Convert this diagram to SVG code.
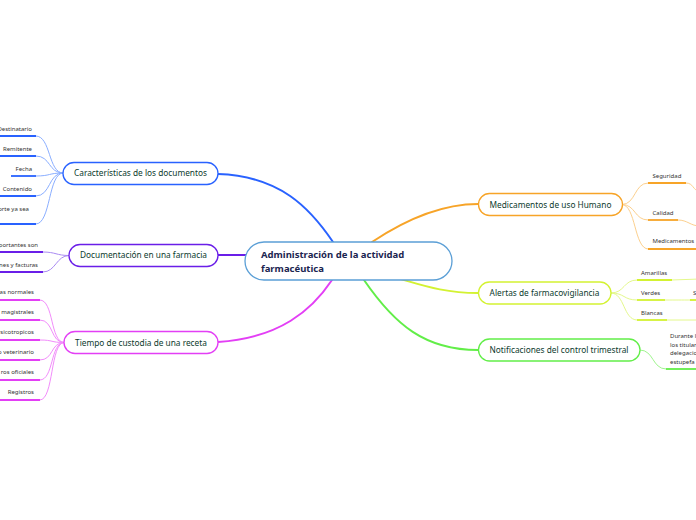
<svg xmlns="http://www.w3.org/2000/svg" width="696" height="520" viewBox="0 0 696 520">
<style>
.bg{fill:#ffffff}
.node{fill:#ffffff;stroke-width:1.3}
.nt{font-family:"Noto Sans","Open Sans",sans-serif;font-size:8.3px;fill:#0d3b2e;text-anchor:middle}
.ct{font-family:"Noto Sans","Open Sans",sans-serif;font-size:9.5px;font-weight:bold;fill:#1b2550}
.lt{font-family:"Noto Sans","Open Sans",sans-serif;font-size:6px;fill:#333333}
.le{text-anchor:end}
.c{fill:none;stroke-linecap:round}
.u{fill:none;stroke-width:1.8}
.blue{stroke:#2962ff}
.blueL{stroke:#8aaeff}
.purp{stroke:#6a1ee8}
.purpL{stroke:#a98af2}
.mag{stroke:#e33ff5}
.magL{stroke:#f28cfb}
.ora{stroke:#f7a428}
.oraL{stroke:#fcd08e}
.yel{stroke:#d3f232}
.yelL{stroke:#e4f88c}
.grn{stroke:#62ee48}
.grnL{stroke:#9ff58e}
</style>
<rect class="bg" x="0" y="0" width="696" height="520"/>
<g id="connectors">
  <!-- main branches -->
  <path class="c blue" stroke-width="2" d="M218,174 C280,176 310,208 333,242"/>
  <path class="c purp" stroke-width="2" d="M218,255 L246,255"/>
  <path class="c mag" stroke-width="2" d="M218,342 C280,338 312,310 332,280"/>
  <path class="c ora" stroke-width="2" d="M372,242 C405,220 440,204 478,204"/>
  <path class="c yel" stroke-width="2" d="M397,278 C425,286 445,293 478,293"/>
  <path class="c grn" stroke-width="2" d="M364,280 C395,325 425,350 478,350"/>
  <!-- blue children -->
  <path class="c blueL" stroke-width="1" d="M63,173 C48,173 51,136 36,136"/>
  <path class="c blueL" stroke-width="1" d="M63,173 C48,173 51,156 36,156"/>
  <path class="c blueL" stroke-width="1" d="M63,173 C48,173 51,176 36,176"/>
  <path class="c blueL" stroke-width="1" d="M63,173 C48,173 51,196 36,196"/>
  <path class="c blueL" stroke-width="1" d="M63,173 C48,173 51,224 36,224"/>
  <!-- purple children -->
  <path class="c purpL" stroke-width="1" d="M69,255.5 C56,255.5 56,252 43,252"/>
  <path class="c purpL" stroke-width="1" d="M69,255.5 C56,255.5 56,272 43,272"/>
  <!-- magenta children -->
  <path class="c magL" stroke-width="1" d="M64,342.5 C50,342.5 54,300 40,300"/>
  <path class="c magL" stroke-width="1" d="M64,342.5 C50,342.5 54,320 40,320"/>
  <path class="c magL" stroke-width="1" d="M64,342.5 C50,342.5 54,340 40,340"/>
  <path class="c magL" stroke-width="1" d="M64,342.5 C50,342.5 54,360 40,360"/>
  <path class="c magL" stroke-width="1" d="M64,342.5 C50,342.5 54,380 40,380"/>
  <path class="c magL" stroke-width="1" d="M64,342.5 C50,342.5 54,400 40,400"/>
  <!-- orange children -->
  <path class="c oraL" stroke-width="1" d="M622,204.5 C636,204.5 634,183 648,183"/>
  <path class="c oraL" stroke-width="1" d="M622,204.5 C636,204.5 634,220 648,220"/>
  <path class="c oraL" stroke-width="1" d="M622,204.5 C636,204.5 634,249 648,249"/>
  <path class="c oraL" stroke-width="1" d="M686,183 C694,183 692,190 700,192"/>
  <path class="c oraL" stroke-width="1" d="M678,220 C688,220 690,226 700,226"/>
  <!-- yellow children -->
  <path class="c yelL" stroke-width="1" d="M611,293 C625,293 623,280 637,280"/>
  <path class="c yelL" stroke-width="1" d="M611,293 C625,293 623,300 637,300"/>
  <path class="c yelL" stroke-width="1" d="M611,293 C625,293 623,320 637,320"/>
  <path class="c yelL" stroke-width="1" d="M672,280 L700,279"/>
  <path class="c yelL" stroke-width="1" d="M665,300 C678,300 680,300 692,300"/>
  <path class="c yelL" stroke-width="1" d="M667,320 L700,320"/>
  <!-- green child -->
  <path class="c grnL" stroke-width="1" d="M640,350 C654,350 652,369 666,369"/>
</g>
<g id="center">
  <rect class="node" x="245" y="242" width="207" height="38" rx="19" stroke="#5b9fd6"/>
  <text class="ct" x="261" y="258">Administración de la actividad</text>
  <text class="ct" x="261" y="271.5">farmacéutica</text>
</g>
<g id="n-caracteristicas">
  <rect class="node blue" x="63" y="162.5" width="155" height="22" rx="11"/>
  <text class="nt" x="140.5" y="176">Características de los documentos</text>
</g>
<g id="n-documentacion">
  <rect class="node purp" x="69" y="244.5" width="149" height="22" rx="11"/>
  <text class="nt" x="143.5" y="258">Documentación en una farmacia</text>
</g>
<g id="n-tiempo">
  <rect class="node mag" x="64" y="331.5" width="154" height="22" rx="11"/>
  <text class="nt" x="141" y="346">Tiempo de custodia de una receta</text>
</g>
<g id="n-medicamentos">
  <rect class="node ora" x="478.5" y="193.5" width="144" height="22" rx="11"/>
  <text class="nt" x="550.5" y="207.5">Medicamentos de uso Humano</text>
</g>
<g id="n-alertas">
  <rect class="node yel" x="478.5" y="282" width="132.5" height="22" rx="11"/>
  <text class="nt" x="544.5" y="296">Alertas de farmacovigilancia</text>
</g>
<g id="n-notificaciones">
  <rect class="node grn" x="478.5" y="339" width="161.5" height="22" rx="11"/>
  <text class="nt" x="559" y="353">Notificaciones del control trimestral</text>
</g>
<g id="c-destinatario">
  <path class="u blue" d="M0,136 L36,136"/>
  <text class="lt le" x="32" y="131">Destinatario</text>
</g>
<g id="c-remitente">
  <path class="u blue" d="M0,156 L36,156"/>
  <text class="lt le" x="32" y="151">Remitente</text>
</g>
<g id="c-fecha">
  <path class="u blue" d="M11,176 L36,176"/>
  <text class="lt le" x="32" y="171">Fecha</text>
</g>
<g id="c-contenido">
  <path class="u blue" d="M0,196 L36,196"/>
  <text class="lt le" x="32" y="191">Contenido</text>
</g>
<g id="c-soporte">
  <path class="u blue" d="M0,224 L36,224"/>
  <text class="lt le" x="29" y="211">orte ya sea</text>
</g>
<g id="c-importantes">
  <path class="u purp" d="M0,252 L43,252"/>
  <text class="lt le" x="38" y="247">portantes son</text>
</g>
<g id="c-facturas">
  <path class="u purp" d="M0,272 L43,272"/>
  <text class="lt le" x="38" y="267">nes y facturas</text>
</g>
<g id="c-normales">
  <path class="u mag" d="M0,300 L40,300"/>
  <text class="lt le" x="34" y="294">as normales</text>
</g>
<g id="c-magistrales">
  <path class="u mag" d="M0,320 L40,320"/>
  <text class="lt le" x="34" y="314">magistrales</text>
</g>
<g id="c-psicotropicos">
  <path class="u mag" d="M0,340 L40,340"/>
  <text class="lt le" x="34" y="334">rsicotropicos</text>
</g>
<g id="c-veterinario">
  <path class="u mag" d="M0,360 L40,360"/>
  <text class="lt le" x="34" y="354">o veterinario</text>
</g>
<g id="c-oficiales">
  <path class="u mag" d="M0,380 L40,380"/>
  <text class="lt le" x="34" y="374">ros oficiales</text>
</g>
<g id="c-registros">
  <path class="u mag" d="M0,400 L40,400"/>
  <text class="lt le" x="34" y="394">Registros</text>
</g>
<g id="c-seguridad">
  <path class="u ora" d="M648,183 L686,183"/>
  <text class="lt" x="652.5" y="177.5">Seguridad</text>
</g>
<g id="c-calidad">
  <path class="u ora" d="M648,220 L678,220"/>
  <text class="lt" x="652.5" y="214.5">Calidad</text>
</g>
<g id="c-medicamentos">
  <path class="u ora" d="M648,249 L696,249"/>
  <text class="lt" x="652.5" y="243">Medicamentos</text>
</g>
<g id="c-amarillas">
  <path class="u yel" d="M637,280 L672,280"/>
  <text class="lt" x="641" y="274.5">Amarillas</text>
</g>
<g id="c-verdes">
  <path class="u yel" d="M637,300 L665,300"/>
  <text class="lt" x="641" y="294.5">Verdes</text>
</g>
<g id="c-verdes-s">
  <path class="u yel" d="M690,300 L696,300"/>
  <text class="lt" x="693" y="294.5">S</text>
</g>
<g id="c-blancas">
  <path class="u yel" d="M637,320 L667,320"/>
  <text class="lt" x="641" y="314.5">Blancas</text>
</g>
<g id="c-durante">
  <path class="u grn" d="M666,369 L696,369"/>
  <text class="lt" x="670" y="338">Durante l</text>
  <text class="lt" x="670" y="346.5">los titular</text>
  <text class="lt" x="670" y="355">delegacio</text>
  <text class="lt" x="670" y="363.5">estupefa</text>
</g>
</svg>
